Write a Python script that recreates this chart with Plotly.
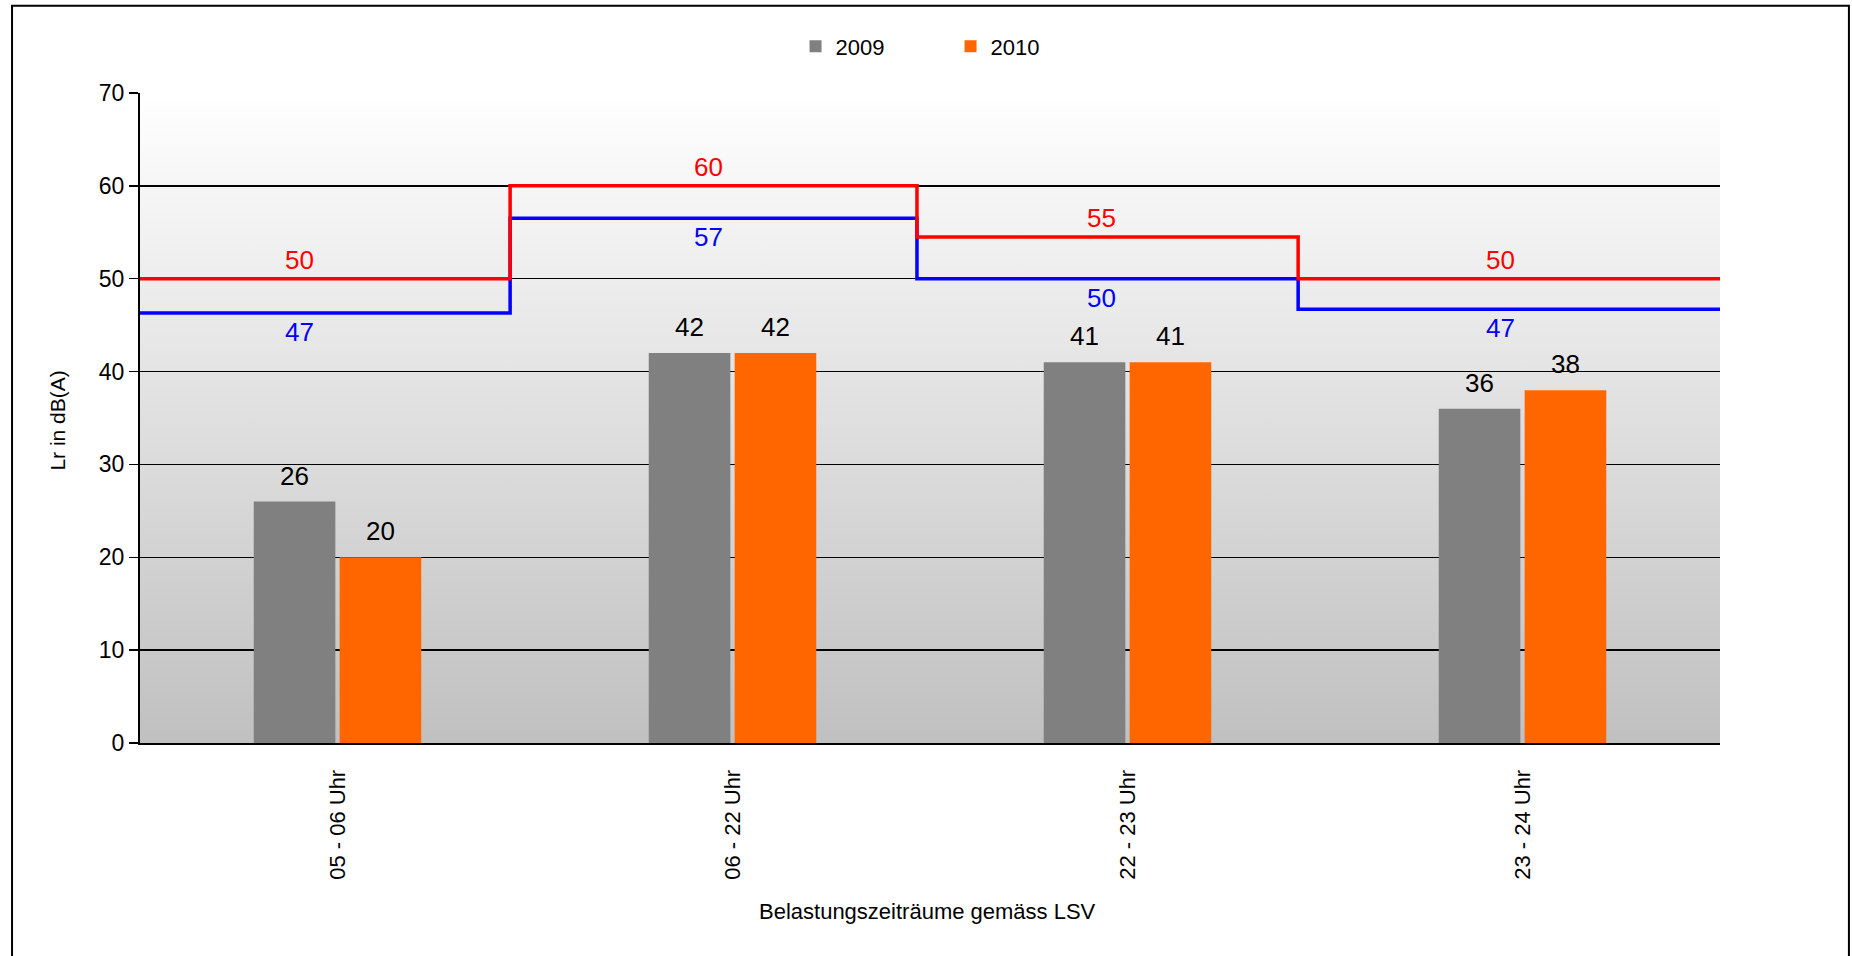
import base64
import plotly.graph_objects as go

# ---- data ----
categories = ["05 - 06 Uhr", "06 - 22 Uhr", "22 - 23 Uhr", "23 - 24 Uhr"]
values_2009 = [26, 42, 41, 36]
values_2010 = [20, 42, 41, 38]

# limit lines (step functions over the periods)
step_edges = [-0.5, 0.437, 1.467, 2.432, 3.5]
red_limit = [50, 60, 54.5, 50]
red_labels = ["50", "60", "55", "50"]
blue_limit = [46.3, 56.5, 50, 46.7]
blue_labels = ["47", "57", "50", "47"]
limit_label_x = [-0.095, 0.938, 1.933, 2.945]

y_ticks = [0, 10, 20, 30, 40, 50, 60, 70]

FONT = "Liberation Sans, Arial, sans-serif"
GRAY = "#808080"
ORANGE = "#FF6600"
BARGAP = 0.565
x_idx = list(range(len(categories)))

fig = go.Figure()
fig.add_trace(go.Bar(x=x_idx, y=values_2009, name="2009", marker=dict(color=GRAY, line=dict(width=0))))
fig.add_trace(go.Bar(x=x_idx, y=values_2010, name="2010", marker=dict(color=ORANGE, line=dict(width=0))))

fig.add_trace(go.Scatter(x=step_edges, y=blue_limit + [blue_limit[-1]], mode="lines",
                         line=dict(color="#0000FF", width=3.5, shape="hv"), showlegend=False, hoverinfo="skip"))
fig.add_trace(go.Scatter(x=step_edges, y=red_limit + [red_limit[-1]], mode="lines",
                         line=dict(color="#FF0000", width=3.5, shape="hv"), showlegend=False, hoverinfo="skip"))

ann = []
slot = (1 - BARGAP) / 2
for i in x_idx:
    ann.append(dict(x=i - slot / 2, y=values_2009[i], text=str(values_2009[i]), showarrow=False,
                    yanchor="middle", yshift=26, font=dict(size=26, color="black", family=FONT)))
    ann.append(dict(x=i + slot / 2, y=values_2010[i], text=str(values_2010[i]), showarrow=False,
                    yanchor="middle", yshift=26, font=dict(size=26, color="black", family=FONT)))
    ann.append(dict(x=limit_label_x[i], y=red_limit[i], text=red_labels[i], showarrow=False,
                    yanchor="middle", yshift=19, font=dict(size=26, color="#FF0000", family=FONT)))
    ann.append(dict(x=limit_label_x[i], y=blue_limit[i], text=blue_labels[i], showarrow=False,
                    yanchor="middle", yshift=-19, font=dict(size=26, color="#0000FF", family=FONT)))

# axis titles
ann.append(dict(xref="paper", yref="paper", x=0.4987, y=-0.2595, text="Belastungszeiträume gemäss LSV",
                showarrow=False, xanchor="center", yanchor="middle", font=dict(size=22, color="black", family=FONT)))
ann.append(dict(xref="paper", yref="paper", x=-0.0519, y=0.496, text="Lr in dB(A)", textangle=-90,
                showarrow=False, xanchor="center", yanchor="middle", font=dict(size=21, color="black", family=FONT)))

svg = ("<svg xmlns='http://www.w3.org/2000/svg' width='100' height='100' preserveAspectRatio='none'>"
       "<defs><linearGradient id='g' x1='0' y1='0' x2='0' y2='1'>"
       "<stop offset='0' stop-color='#ffffff'/><stop offset='1' stop-color='#c0c0c0'/>"
       "</linearGradient></defs><rect width='100' height='100' fill='url(#g)'/></svg>")
src = "data:image/svg+xml;base64," + base64.b64encode(svg.encode()).decode()

fig.update_layout(
    width=1852, height=956,
    margin=dict(l=140, r=132, t=93, b=213, autoexpand=False),
    paper_bgcolor="white", plot_bgcolor="rgba(0,0,0,0)",
    barmode="group", bargap=BARGAP, bargroupgap=0.05,
    font=dict(family=FONT, size=22, color="black"),
    showlegend=True,
    legend=dict(orientation="h", x=0.513, y=1.0717, xanchor="center", yanchor="middle",
                font=dict(size=22, family=FONT), entrywidth=110, bgcolor="rgba(0,0,0,0)"),
    annotations=ann,
    images=[dict(source=src, xref="paper", yref="paper", x=0, y=1, sizex=1, sizey=1,
                 sizing="stretch", layer="below", xanchor="left", yanchor="top")],
    shapes=[dict(type="rect", xref="paper", yref="paper", x0=-0.081, x1=1.0816, y0=-0.4, y1=1.1343,
                 line=dict(color="black", width=2), fillcolor="rgba(0,0,0,0)", layer="above")],
    hovermode=False,
)

fig.update_xaxes(range=[-0.5, 3.5], tickvals=x_idx, ticktext=categories, tickangle=-90,
                 showgrid=False, zeroline=False, showline=True, linecolor="black", linewidth=2,
                 ticks="outside", ticklen=16, tickcolor="rgba(0,0,0,0)",
                 tickfont=dict(size=22, family=FONT, color="black"), fixedrange=True)
fig.update_yaxes(range=[0, 70], tickvals=y_ticks, showgrid=True, gridcolor="black", gridwidth=1.5,
                 zeroline=False, showline=True, linecolor="black", linewidth=2,
                 ticks="outside", ticklen=9, tickcolor="black", tickwidth=1.5,
                 tickfont=dict(size=23, family=FONT, color="black"), fixedrange=True)

fig.write_html("out.html", config={"displayModeBar": False, "staticPlot": True},
               post_script="document.body.style.margin='0';")
